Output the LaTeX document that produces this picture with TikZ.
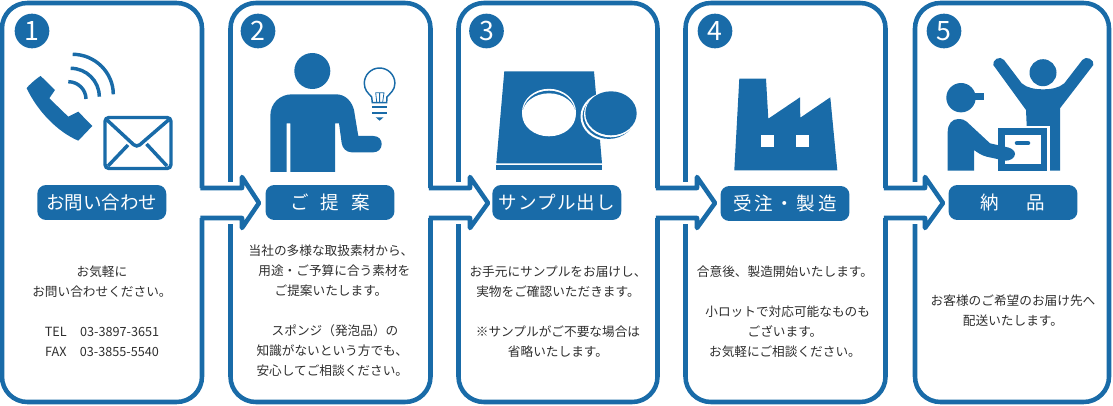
\documentclass[tikz,border=0pt]{standalone}
\usepackage{fontspec}
\setmainfont{Noto Sans CJK JP}
\definecolor{flowblue}{HTML}{196BA8}
\definecolor{flowtext}{HTML}{2E2E2E}

\begin{document}
\begin{tikzpicture}[x=.75pt,y=-.75pt]
    \tikzstyle{panel}=[draw=flowblue,line width=3.4pt,rounded corners=19pt]
    \tikzstyle{flowarrow}=[draw=flowblue,line width=3.4pt,line join=round]
    \tikzstyle{badge}=[circle,fill=flowblue,text=white,minimum size=26pt,inner sep=0pt,font=\fontsize{20}{20}\selectfont]
    \tikzstyle{title}=[rectangle,fill=flowblue,text=white,rounded corners=6.5pt,minimum width=96.7pt,minimum height=26.2pt,inner sep=0pt,font=\fontsize{13.9}{15}\selectfont]
    \tikzstyle{note} = [text=flowtext,text width=150pt,align=center,inner sep=0pt,font=\fontsize{9.5}{15}\selectfont]
    \tikzstyle{icon}=[fill=flowblue,draw=none]
    \tikzstyle{wave}=[draw=flowblue,line width=2.6pt]

    \useasboundingbox (0,0) rectangle (1113,406);

    \draw[panel] (202,188) -- (202,3) -- (2,3) -- (2,402) -- (202,402) -- (202,218);
    \draw[flowarrow] (200.3,188) -- (242,188) -- (242,177) -- (259,203) -- (242,228) -- (242,218) -- (200.3,218);

    \draw[panel] (430.5,188) -- (430.5,3) -- (230.5,3) -- (230.5,182);
    \draw[panel] (430.5,218) -- (430.5,402) -- (230.5,402) -- (230.5,224);
    \draw[flowarrow] (428.8,188) -- (470,188) -- (470,177) -- (488,203) -- (470,228) -- (470,218) -- (428.8,218);

    \draw[panel] (657.5,188) -- (657.5,3) -- (458.5,3) -- (458.5,182);
    \draw[panel] (657.5,218) -- (657.5,402) -- (458.5,402) -- (458.5,224);
    \draw[flowarrow] (655.8,188) -- (697,188) -- (697,177) -- (715,203) -- (697,228) -- (697,218) -- (655.8,218);

    \draw[panel] (885.5,188) -- (885.5,3) -- (685.5,3) -- (685.5,182);
    \draw[panel] (885.5,218) -- (885.5,402) -- (685.5,402) -- (685.5,224);
    \draw[flowarrow] (883.8,188) -- (925,188) -- (925,177) -- (943,203) -- (925,228) -- (925,218) -- (883.8,218);

    \draw[panel] (915,182) -- (915,3) -- (1109,3) -- (1109,402) -- (915,402) -- (915,224);

    \node[badge] (badge1) at (32,31) {1};
    \node[badge] (badge2) at (258,31) {2};
    \node[badge] (badge3) at (486.5,31) {3};
    \node[badge] (badge4) at (715,31) {4};
    \node[badge] (badge5) at (944,31) {5};

    \node[title] (title1) at (101.8,202.5) {お問い合わせ};
    \node[title] (title2) at (330,202.5) {ご\hspace{9pt}提\hspace{9pt}案};
    \node[title] (title3) at (556.8,202.5) {サ\hspace{.75pt}ン\hspace{.75pt}プ\hspace{.75pt}ル\hspace{.75pt}出\hspace{.75pt}し};
    \node[title] (title4) at (785,203.5) {受\hspace{2pt}注\hspace{2pt}・\hspace{2pt}製\hspace{2pt}造};
    \node[title] (title5) at (1013,202.5) {納\hspace{21pt}品};

    \node[note] (note1) at (102,311) {お気軽に\\お問い合わせください。\\\mbox{}\\TEL\hspace{10pt}03-3897-3651\\FAX\hspace{10pt}03-3855-5540};
    \node[note] (note2) at (331,311) {当社の多様な取扱素材から、\\\hspace{5pt}用途・ご予算に合う素材を\\ご提案いたします。\\\mbox{}\\\hspace{6pt}スポンジ（発泡品）の\\\hspace{2pt}知識がないという方でも、\\\hspace{2pt}安心してご相談ください。};
    \node[note] (note3) at (558,311.5) {お手元にサンプルをお届けし、\\実物をご確認いただきます。\\\mbox{}\\※サンプルがご不要な場合は\\省略いたします。};
    \node[note] (note4) at (785,311.5) {合意後、製造開始いたします。\\\mbox{}\\\hspace{4pt}小ロットで対応可能なものも\\ございます。\\お気軽にご相談ください。};
    \node[note] (note5) at (1013,311) {お客様のご希望のお届け先へ\\配送いたします。};

    \fill[icon] (26.7,88.3) .. controls (26.7,87) and (38,77) .. (40.7,76) -- (55,90) -- (49.3,98.3) -- (68.3,116.7) -- (78.3,111.7) -- (92.3,126) -- (78.3,140.7) .. controls (58,132) and (38,112) .. cycle;
    \draw[wave] (72.7,54.3) .. controls (95,54.3) and (113.3,72.5) .. (113.3,94.3);
    \draw[wave] (70.7,68.3) .. controls (86.4,68.3) and (99.3,81) .. (99.3,96.7);
    \draw[wave] (68.3,81.7) .. controls (78,81.7) and (86,89.5) .. (86,99);
    \draw[wave,rounded corners=3pt] (105,117.5) rectangle (171,168.5);
    \draw[wave,rounded corners=3pt] (107,120) -- (136.7,147.5) -- (168.5,120);
    \draw[wave] (108,166) -- (128,145) (167,166) -- (146.5,144);

    \fill[icon] (312.3,71) circle (18);
    \fill[icon] (270.3,172) -- (270.3,116) .. controls (270.3,103) and (280,94.3) .. (292,94.3) -- (336,94.3) .. controls (346,94.3) and (352,102) .. (354,110) -- (358.3,136) -- (373.3,136) .. controls (379,136) and (381.7,140) .. (381.7,144) .. controls (381.7,149) and (378,152.3) .. (373.3,152.3) -- (351.7,152.3) .. controls (346,152.3) and (342.5,148) .. (341.7,143.3) -- (339,123.3) -- (335,123.3) -- (335,172) -- (290.3,172) -- (290.3,123.3) -- (286.7,123.3) -- (286.7,172) -- cycle;
    \draw[draw=flowblue,line width=1.1pt] (372.3,102.7) -- (371.7,97) .. controls (368,93) and (364.3,90) .. (364.3,83.3) .. controls (364.3,75) and (371,68) .. (379.6,68) .. controls (388,68) and (394.9,75) .. (394.9,83.3) .. controls (394.9,90) and (390.5,93) .. (386.9,97) -- (386.7,102.7) -- cycle;
    \draw[draw=flowblue,line width=.6pt] (376.7,102) -- (375.7,92.7) -- (384,92.7) -- (382.7,102) (379.6,102) -- (379.6,92.7);
    \draw[draw=flowblue,line width=1.5pt] (372.3,107.5) -- (386.7,107.5) (372.3,113) -- (386.7,113);
    \fill[icon] (375.7,117.3) -- (383.5,117.3) -- (379.6,120.7) -- cycle;

    \fill[icon] (504.3,71.3) -- (594,71.3) -- (602,163.3) -- (496.3,163.3) -- cycle;
    \fill[icon] (496.3,165) rectangle (602,170.3);
    \fill[white] (549,112.3) ellipse (27 and 23.5);
    \fill[icon] (549,112.7) ellipse (26 and 22);
    \fill[white] (549,114.8) ellipse (26.7 and 21.5);
    \fill[white] (608.5,116.5) ellipse (28 and 24.5);
    \fill[icon] (608.8,116.3) ellipse (26.2 and 22.6);
    \fill[white] (610.5,114.3) ellipse (26.5 and 23);
    \fill[icon] (611,113.3) ellipse (25.7 and 22);

    \fill[icon] (739.3,78.7) -- (766,78.7) -- (768.3,118.7) -- (800,97.3) -- (800.3,117.7) -- (830.3,97.3) -- (837.3,170.3) -- (734.3,170.3) -- cycle;
    \fill[white] (761,135) rectangle (773.7,147.3);
    \fill[white] (796.3,135) rectangle (809,147.3);

    \fill[icon] (1043,72.7) circle (13.5);
    \fill[icon] (993.3,65) .. controls (992,60) and (1000,55) .. (1004,60) -- (1021.7,83.3) .. controls (1027,88) and (1035,89.3) .. (1043,89.3) .. controls (1051,89.3) and (1059,88) .. (1064.3,83.3) -- (1082.3,60) .. controls (1086,55) and (1095,60) .. (1093.3,65) -- (1060,108.3) -- (1060,170.7) -- (1050,170.7) -- (1050,126) -- (1026.7,126) -- (1026,110) -- cycle;
    \draw[draw=flowblue,line width=4.8pt] (1001.5,131.5) rectangle (1044,167.5);
    \draw[draw=flowblue,line width=3.4pt,line cap=round] (1017,143.2) -- (1028,143.2);
    \fill[icon] (961,97.7) circle (14.7);
    \fill[icon] (970,93.3) rectangle (984,100);
    \fill[icon] (947.7,170.7) -- (947.7,132) .. controls (947.7,124) and (952,119) .. (958.3,119) .. controls (962,119) and (965,120) .. (966.7,121.7) -- (990,143.3) -- (1008.3,147.5) .. controls (1012,148.5) and (1015,151) .. (1015,154) .. controls (1015,158) and (1010,161) .. (1005,160.7) -- (986.7,156.7) .. controls (982,155.5) and (978,153) .. (974,150) -- (974,170.7) -- cycle;
\end{tikzpicture}
\end{document}
